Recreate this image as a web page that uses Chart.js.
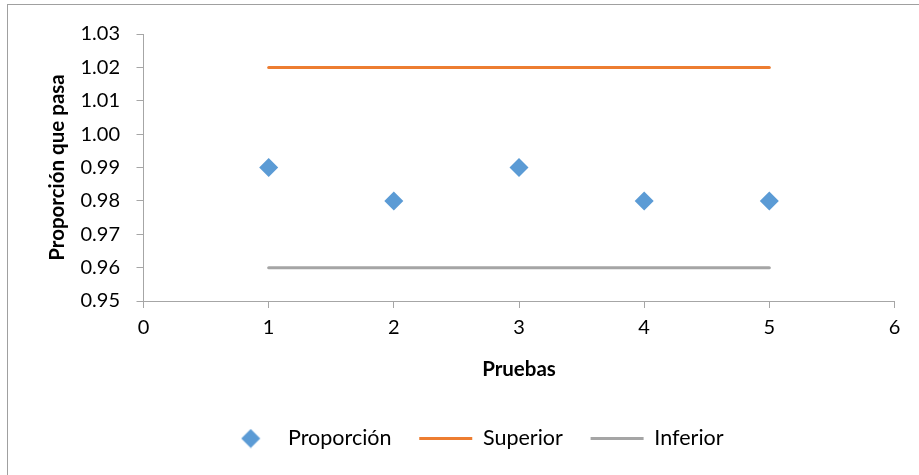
<!DOCTYPE html>
<html>
<head>
<meta charset="utf-8">
<script src="https://cdn.jsdelivr.net/npm/chart.js@4.4.0/dist/chart.umd.min.js"></script>
<style>
  html, body { margin: 0; padding: 0; background: #fff; overflow: hidden; }
  #wrap { position: relative; width: 919px; height: 475px; }
</style>
</head>
<body>
<div id="wrap"><canvas id="graph"></canvas></div>
<script>
// valeurs
const pruebas = [1, 2, 3, 4, 5];
const proporcion = [0.99, 0.98, 0.99, 0.98, 0.98];
const superior = [1.02, 1.02, 1.02, 1.02, 1.02];
const inferior = [0.96, 0.96, 0.96, 0.96, 0.96];
const seriesNames = ['Proporción', 'Superior', 'Inferior'];
const yTicks = { min: 0.95, max: 1.03, step: 0.01 };
const xTicks = { min: 0, max: 6, step: 1 };

const toPoints = (ys) => pruebas.map((x, i) => ({ x: x, y: ys[i] }));

Chart.defaults.font.family = 'Lato';
Chart.defaults.font.size = 20;
Chart.defaults.color = '#000';

// petit losange pour la légende
const diamond = document.createElement('canvas');
diamond.width = 20; diamond.height = 20;
const dc = diamond.getContext('2d');
dc.fillStyle = '#5b9bd5';
dc.beginPath();
dc.moveTo(10, 0.5); dc.lineTo(19.5, 10); dc.lineTo(10, 19.5); dc.lineTo(0.5, 10);
dc.closePath(); dc.fill();

const frame = {
  id: 'frame',
  beforeDraw(chart) {
    const ctx = chart.ctx;
    ctx.save();
    ctx.strokeStyle = '#a0a0a0';
    ctx.lineWidth = 1;
    ctx.strokeRect(7.5, 4.5, 1200, 1200);
    ctx.restore();
  }
};

const axisGray = '#a6a6a6';

new Chart(document.getElementById('graph'), {
  type: 'scatter',
  data: {
    datasets: [
      {
        label: seriesNames[0],
        data: toPoints(proporcion),
        pointStyle: 'rectRot',
        pointRadius: 9.5,
        pointHoverRadius: 9.5,
        backgroundColor: '#5b9bd5',
        borderColor: '#5b9bd5',
        borderWidth: 0,
        showLine: false
      },
      {
        label: seriesNames[1],
        data: toPoints(superior),
        showLine: true,
        pointRadius: 0,
        pointStyle: 'line',
        borderColor: '#ed7d31',
        backgroundColor: '#ed7d31',
        borderWidth: 3,
        borderCapStyle: 'round'
      },
      {
        label: seriesNames[2],
        data: toPoints(inferior),
        showLine: true,
        pointRadius: 0,
        pointStyle: 'line',
        borderColor: '#a5a5a5',
        backgroundColor: '#a5a5a5',
        borderWidth: 3,
        borderCapStyle: 'round'
      }
    ]
  },
  options: {
    responsive: true,
    maintainAspectRatio: false,
    animation: false,
    layout: { padding: { left: 28.8, right: 0, top: 34, bottom: 15.75 } },
    scales: {
      x: {
        type: 'linear',
        min: xTicks.min,
        max: xTicks.max,
        afterFit: (s) => { s.height = 99; s.paddingRight = 24.5; s.paddingLeft = 0; },
        ticks: { stepSize: xTicks.step, padding: 8 },
        grid: { drawOnChartArea: false, drawTicks: true, tickLength: 7, color: axisGray },
        border: { display: true, color: axisGray },
        title: {
          display: true,
          text: 'Pruebas',
          font: { weight: 'bold', size: 20.5 },
          padding: { top: 0, bottom: 18.5 }
        }
      },
      y: {
        min: yTicks.min,
        max: yTicks.max,
        afterFit: (s) => { s.width = 114.7; },
        ticks: {
          stepSize: yTicks.step,
          padding: 16.5,
          callback: (v) => v.toFixed(2)
        },
        grid: { drawOnChartArea: false, drawTicks: true, tickLength: 7, color: axisGray },
        border: { display: true, color: axisGray },
        title: {
          display: true,
          text: 'Proporción que pasa',
          font: { weight: 'bold', size: 20.5 },
          padding: { top: 16, bottom: 0 }
        }
      }
    },
    plugins: {
      tooltip: { enabled: false },
      legend: {
        position: 'bottom',
        labels: {
          usePointStyle: true,
          pointStyleWidth: 53,
          padding: 27.75,
          font: { size: 21.5 },
          generateLabels: (chart) => {
            const items = Chart.defaults.plugins.legend.labels.generateLabels(chart);
            items[0].pointStyle = diamond;
            return items;
          }
        }
      }
    }
  },
  plugins: [frame]
});
</script>
</body>
</html>
